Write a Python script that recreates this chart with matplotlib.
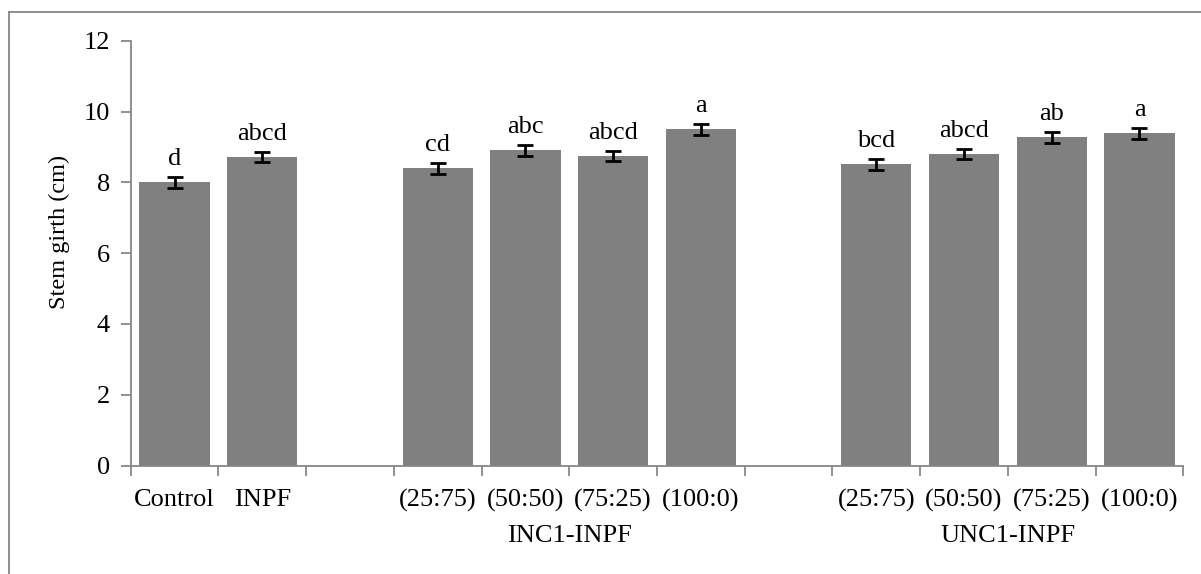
import numpy as np
import matplotlib
matplotlib.use('Agg')
import matplotlib.pyplot as plt
from matplotlib.lines import Line2D

plt.rcParams['font.family'] = ['Liberation Serif', 'DejaVu Serif']

# data ('' = empty slot between groups)
categories = ['Control', 'INPF', '', '(25:75)', '(50:50)', '(75:25)', '(100:0)',
              '', '(25:75)', '(50:50)', '(75:25)', '(100:0)']
values = [8.00, 8.72, 8.40, 8.90, 8.74, 9.50, 8.51, 8.80, 9.27, 9.38]
errors = [0.16, 0.15, 0.16, 0.15, 0.15, 0.16, 0.15, 0.15, 0.15, 0.16]
letters = ['d', 'abcd', 'cd', 'abc', 'abcd', 'a', 'bcd', 'abcd', 'ab', 'a']
groups = ['', 'INC1-INPF', 'UNC1-INPF']
yticks = [0, 2, 4, 6, 8, 10, 12]

axis_col = '#878787'
fs = 19

x = np.arange(len(categories))
bar_x = x[[c != '' for c in categories]]

# split slots into groups at the blanks
segs = [[]]
for i, c in enumerate(categories):
    if c == '':
        segs.append([])
    else:
        segs[-1].append(i)

fig = plt.figure(figsize=(12.01, 5.74), dpi=100)
ax = fig.add_axes([0.1088, 0.189, 0.9853 - 0.1088, 0.929 - 0.189])

ax.bar(bar_x, values, width=0.8, color='#808080', zorder=2)
ax.errorbar(bar_x, values, yerr=errors, fmt='none', ecolor='black',
            elinewidth=2, capsize=5.5, capthick=2, zorder=3)
for xi, v, e, t in zip(bar_x, values, errors, letters):
    ax.annotate(t, (xi, v + e), xytext=(0, 8.5), textcoords='offset points',
                ha='center', va='baseline', fontsize=fs)

ax.set_xlim(-0.5, len(categories) - 0.5)
ax.set_ylim(0, 12)
ax.set_yticks(yticks)
ax.set_yticklabels([str(t) for t in yticks], fontsize=fs)
ax.tick_params(axis='y', length=7, width=1.3, color=axis_col, pad=8)

ax.set_xticks(x)
ax.set_xticklabels(categories, fontsize=fs)
ax.set_xticks(np.arange(len(categories) + 1) - 0.5, minor=True)
ax.tick_params(axis='x', which='major', length=0, pad=17)
ax.tick_params(axis='x', which='minor', length=7, width=1.3, color=axis_col)

for s, name in zip(segs, groups):
    if name:
        ax.annotate(name, (np.mean(s), 0), xycoords=('data', 'axes fraction'),
                    xytext=(0, -55), textcoords='offset points',
                    ha='center', va='baseline', fontsize=fs)

ax.set_ylabel('Stem girth (cm)', fontsize=17.5)
ax.yaxis.set_label_coords(-0.058, 0.55)

for sp in ['top', 'right']:
    ax.spines[sp].set_visible(False)
for sp in ['left', 'bottom']:
    ax.spines[sp].set_color(axis_col)
    ax.spines[sp].set_linewidth(1.3)

# chart area border (cut off at right and bottom in the original)
fig.add_artist(Line2D([9 / 1201, 9 / 1201], [0, 1 - 12 / 574], color=axis_col, lw=1.3))
fig.add_artist(Line2D([9 / 1201, 1], [1 - 12 / 574, 1 - 12 / 574], color=axis_col, lw=1.3))

plt.savefig('out.png', dpi=100)
